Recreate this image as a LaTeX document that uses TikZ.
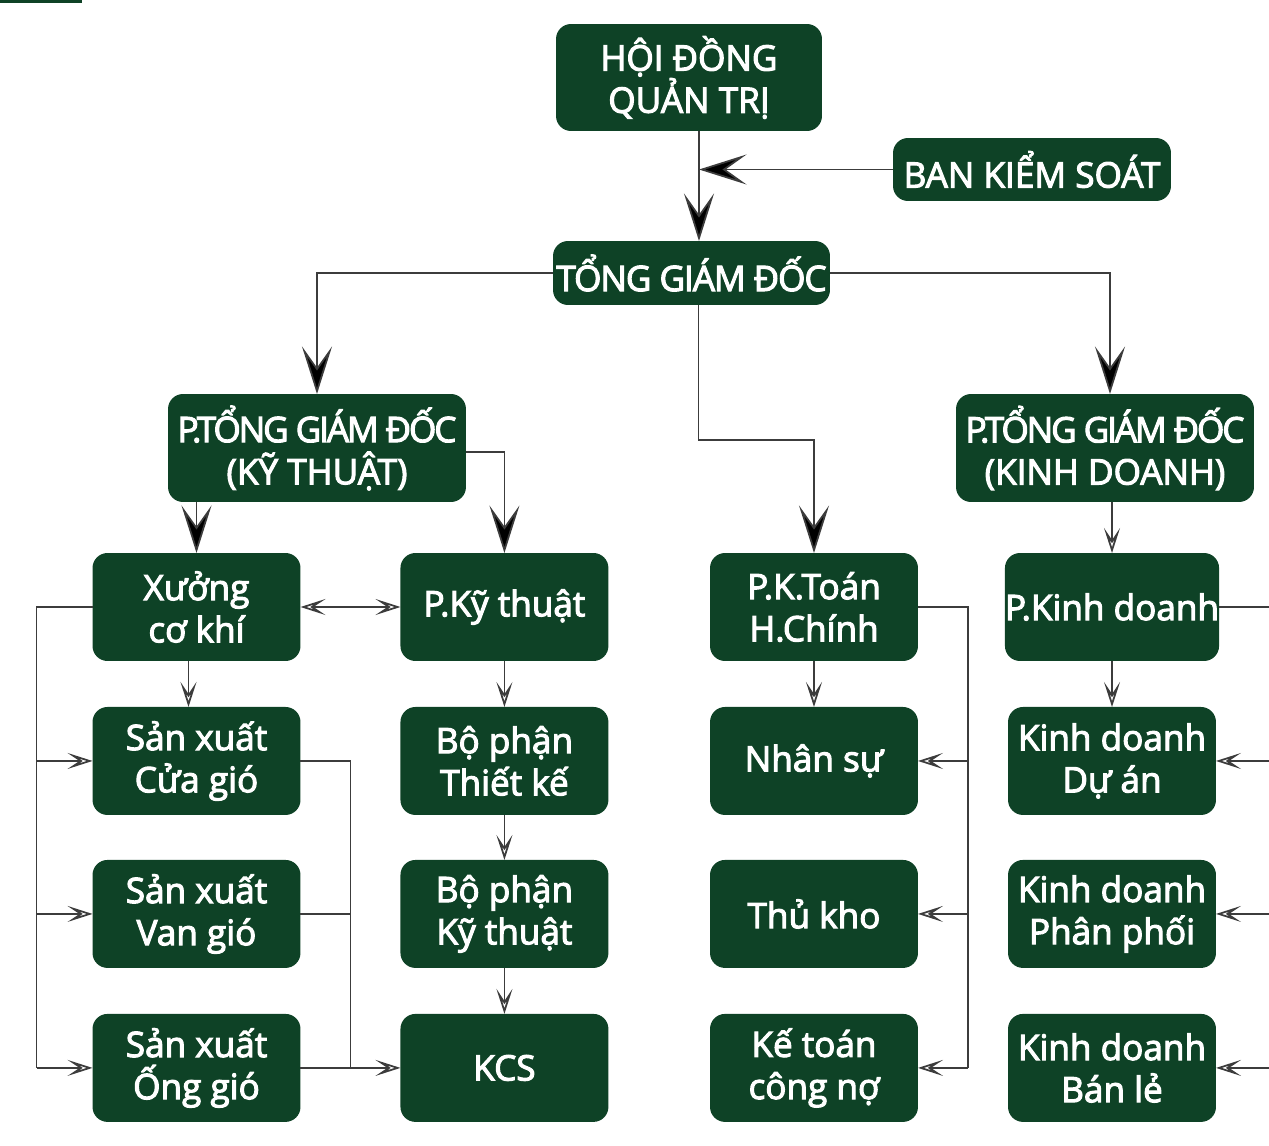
\documentclass[tikz,border=0pt]{standalone}
\usepackage{fontspec}
\setmainfont{Open Sans}[FakeBold = 3]
\usetikzlibrary{positioning, arrows.meta}
\definecolor{dkgreen}{HTML}{0E4226}
\definecolor{wire}{HTML}{3C3C3C}

\begin{document}
\begin{tikzpicture}[x = 0.02cm, y = -0.02cm, line width = 1pt, draw = wire,
		box/.style={rectangle, fill = dkgreen, rounded corners = 0.3cm, text = white, align = center, inner sep = 0pt, outer sep = 0pt, font = \fontsize{20}{24}\selectfont, minimum width = 4.16 cm, minimum height = 2.16 cm},
		head/.style={box, minimum width = 5.96 cm},
		big/.style={-{Stealth[length = 0.95cm, width = 0.6cm, inset = 0.42cm, fill = black]}},
		small/.style={-{Stealth[open, length = 0.5cm, width = 0.32cm, inset = 0.24cm]}},
		smalls/.style={{Stealth[open, length = 0.5cm, width = 0.32cm, inset = 0.24cm]}-{Stealth[open, length = 0.5cm, width = 0.32cm, inset = 0.24cm]}}
	]
	
	\useasboundingbox (0, 0) rectangle (1269, 1146);
	\fill[dkgreen] (0, 0) rectangle (82, 3);
	
	% board, control, CEO
	\node[head, minimum width = 5.32 cm, minimum height = 2.14 cm] (hdqt) at (689, 77.5) {HỘI ĐỒNG\\QUẢN TRỊ};
	\node[head, minimum width = 5.56 cm, minimum height = 1.26 cm] (bks) at (1032, 169.5) {BAN KIỂM SOÁT};
	\node[head, minimum width = 5.54 cm, minimum height = 1.28 cm] (tgd) at (691.5, 273) {{\addfontfeatures{LetterSpace = -3}TỔNG GIÁM ĐỐC}};
	
	\node[head] (ptgdkt) at (317, 448) {{\addfontfeatures{LetterSpace = -6}P.TỔNG GIÁM ĐỐC}\\(KỸ THUẬT)};
	\node[head] (ptgdkd) at (1105, 448) {{\addfontfeatures{LetterSpace = -6}P.TỔNG GIÁM ĐỐC}\\(KINH DOANH)};
	
	% row 1
	\node[box] (xuong) at (196.5, 607) {Xưởng\\cơ khí};
	\node[box, right = 2 cm of xuong] (ptkt) {P.Kỹ thuật};
	\node[box] (pktoan) at (814, 607) {P.K.Toán\\H.Chính};
	\node[box, right = 1.74 cm of pktoan] (pkd) {P.Kinh doanh};
	
	% row 2
	\node[box, below = 0.92 cm of xuong] (sxcua) {Sản xuất\\Cửa gió};
	\node[box, below = 0.92 cm of ptkt] (bptk) {Bộ phận\\Thiết kế};
	\node[box, below = 0.92 cm of pktoan] (nhansu) {Nhân sự};
	\node[box, below = 0.92 cm of pkd] (kdda) {Kinh doanh\\Dự án};
	
	% row 3
	\node[box, below = 0.9 cm of sxcua] (sxvan) {Sản xuất\\Van gió};
	\node[box, below = 0.9 cm of bptk] (bpkt) {Bộ phận\\Kỹ thuật};
	\node[box, below = 0.9 cm of nhansu] (thukho) {Thủ kho};
	\node[box, below = 0.9 cm of kdda] (kdpp) {Kinh doanh\\Phân phối};
	
	% row 4
	\node[box, below = 0.92 cm of sxvan] (sxong) {Sản xuất\\Ống gió};
	\node[box, below = 0.92 cm of bpkt] (kcs) {KCS};
	\node[box, below = 0.92 cm of thukho] (ktcn) {Kế toán\\công nợ};
	\node[box, below = 0.92 cm of kdpp] (kdbl) {Kinh doanh\\Bán lẻ};
	
	% top levels
	\coordinate (spine) at ([xshift = 0.2 cm] hdqt.south);
	\draw[big] (spine) -- (spine |- tgd.north);
	\draw[big] (bks.west) -- (bks.west -| spine);
	\draw[big] (tgd.west) -| (ptgdkt.north);
	\draw[big] (tgd.east) -| ([xshift = 0.1 cm] ptgdkd.north);
	\draw[big] ([xshift = 0.14 cm] tgd.south) -- ++(0, 135) -| (pktoan.north);
	\draw[big] (xuong.north |- ptgdkt.south) -- (xuong.north);
	\draw[big] ([yshift = -0.08 cm] ptgdkt.east) -| (ptkt.north);
	\draw[small] (pkd.north |- ptgdkd.south) -- (pkd.north);
	
	% workshop
	\draw[smalls] (xuong.east) -- (ptkt.west);
	\draw[small] ([xshift = -0.16 cm] xuong.south) -- ([xshift = -0.16 cm] sxcua.north);
	\draw (xuong.west) -- ++(-56, 0) coordinate (busL) -- (busL |- sxong.west);
	\draw[small] (busL |- sxcua.west) -- (sxcua.west);
	\draw[small] (busL |- sxvan.west) -- (sxvan.west);
	\draw[small] (busL |- sxong.west) -- (sxong.west);
	\draw (sxcua.east) -- ++(50, 0) coordinate (busM) -- (busM |- sxong.east);
	\draw (sxvan.east) -- (sxvan.east -| busM);
	\draw[small] (sxong.east) -- (kcs.west);
	
	% technical
	\draw[small] (ptkt.south) -- (bptk.north);
	\draw[small] (bptk.south) -- (bpkt.north);
	\draw[small] (bpkt.south) -- (kcs.north);
	
	% accounting
	\draw[small] (pktoan.south) -- (nhansu.north);
	\draw (pktoan.east) -- ++(50, 0) coordinate (busK) -- (busK |- ktcn.east);
	\draw[small] (busK |- nhansu.east) -- (nhansu.east);
	\draw[small] (busK |- thukho.east) -- (thukho.east);
	\draw[small] (busK |- ktcn.east) -- (ktcn.east);
	
	% sales
	\draw[small] (pkd.south) -- (kdda.north);
	\draw (pkd.east) -- ++(54, 0) coordinate (busR) -- (busR |- kdbl.east);
	\draw[small] (busR |- kdda.east) -- (kdda.east);
	\draw[small] (busR |- kdpp.east) -- (kdpp.east);
	\draw[small] (busR |- kdbl.east) -- (kdbl.east);
	
\end{tikzpicture}
\end{document}
